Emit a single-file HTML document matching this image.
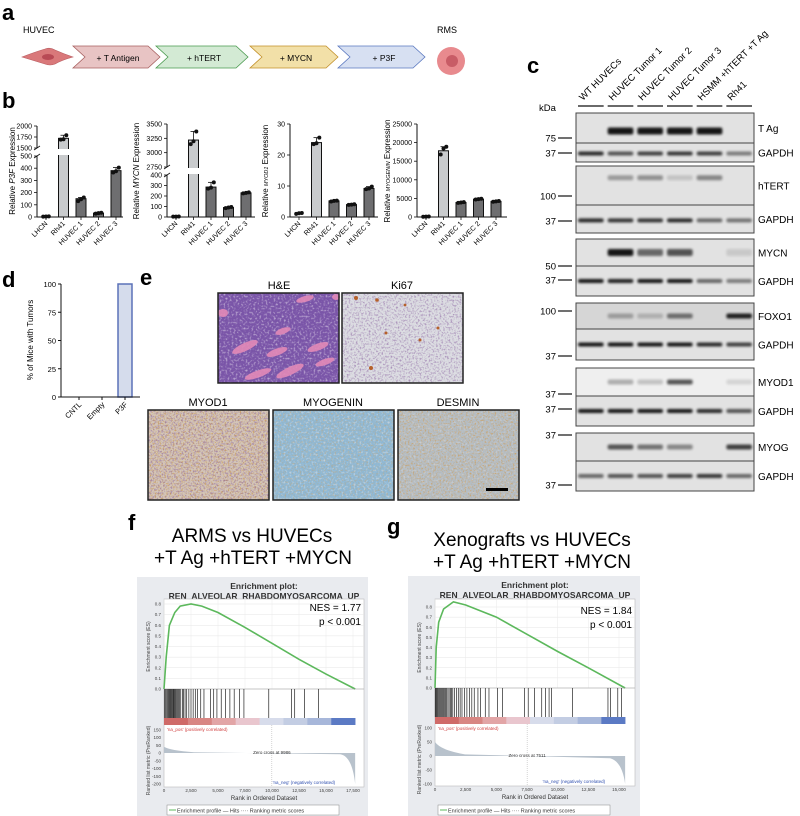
<!DOCTYPE html>
<html><head><meta charset="utf-8">
<style>
html,body{margin:0;padding:0;background:#fff;}
svg{display:block;font-family:"Liberation Sans",Arial,sans-serif;}
</style></head>
<body>
<svg id="fig" width="800" height="816" viewBox="0 0 800 816" xmlns="http://www.w3.org/2000/svg">
<defs>
  <filter id="blur1" x="-20%" y="-100%" width="140%" height="300%"><feGaussianBlur stdDeviation="1.3"/></filter>
  <filter id="speckDark" x="0" y="0" width="100%" height="100%" filterUnits="objectBoundingBox"><feTurbulence type="fractalNoise" baseFrequency="0.55" numOctaves="2" seed="3"/><feColorMatrix type="matrix" values="0 0 0 0 0.25  0 0 0 0 0.12  0 0 0 0 0.35  0 0 0 -3 1.6"/></filter>
  <filter id="speckBrown" x="0" y="0" width="100%" height="100%" filterUnits="objectBoundingBox"><feTurbulence type="fractalNoise" baseFrequency="0.6" numOctaves="2" seed="7"/><feColorMatrix type="matrix" values="0 0 0 0 0.6  0 0 0 0 0.35  0 0 0 0 0.12  0 0 0 -3.2 1.6"/></filter>
  <filter id="speckLight" x="0" y="0" width="100%" height="100%" filterUnits="objectBoundingBox"><feTurbulence type="fractalNoise" baseFrequency="0.5" numOctaves="2" seed="11"/><feColorMatrix type="matrix" values="0 0 0 0 0.95  0 0 0 0 0.92  0 0 0 0 0.95  0 0 0 -3 1.5"/></filter>
</defs>

<!-- Panel a -->
<g>
  <text x="2" y="20" font-size="22" font-weight="bold">a</text>
  <text x="23" y="33" font-size="9">HUVEC</text>
  <g>
    <path d="M22 57 Q35 52 45 49 Q50 47 55 50 Q64 54 73 57 Q62 60 55 64 Q50 66 45 64 Q35 61 22 57Z" fill="#d9787a" stroke="#b85c60" stroke-width="0.6"/>
    <ellipse cx="48" cy="57" rx="6" ry="3" fill="#b84a55"/>
  </g>
  <g>
    <polygon points="73,46 148,46 160,57 148,68 73,68 85,57" fill="#e8c4c4" stroke="#a86060" stroke-width="0.8"/>
    <text x="118" y="61" font-size="8.5" text-anchor="middle">+ T Antigen</text>
  </g>
  <g>
    <polygon points="156,46 236,46 248,57 236,68 156,68 168,57" fill="#d3ead4" stroke="#4a9a4e" stroke-width="0.8"/>
    <text x="204" y="61" font-size="8.5" text-anchor="middle">+ hTERT</text>
  </g>
  <g>
    <polygon points="250,46 326,46 338,57 326,68 250,68 262,57" fill="#f2e0a8" stroke="#c2902a" stroke-width="0.8"/>
    <text x="296" y="61" font-size="8.5" text-anchor="middle">+ MYCN</text>
  </g>
  <g>
    <polygon points="338,46 413,46 425,57 413,68 338,68 350,57" fill="#d7e0f2" stroke="#5a78c0" stroke-width="0.8"/>
    <text x="384" y="61" font-size="8.5" text-anchor="middle">+ P3F</text>
  </g>
  <text x="437" y="33" font-size="9">RMS</text>
  <g>
    <circle cx="451" cy="61" r="14" fill="#e88a8e"/>
    <circle cx="452" cy="61" r="6" fill="#c85c66"/>
  </g>
</g>

<!-- Panel b -->
<text x="2" y="108" font-size="22" font-weight="bold">b</text>
<g id="panelB"></g>

<!-- Panel c -->
<text x="527" y="73" font-size="22" font-weight="bold">c</text>
<g id="panelC"></g>

<!-- Panel d -->
<text x="2" y="287" font-size="22" font-weight="bold">d</text>
<g id="panelD"></g>

<!-- Panel e -->
<g>
  <text x="140" y="285" font-size="22" font-weight="bold">e</text>
  <text x="279" y="289" font-size="11" text-anchor="middle">H&amp;E</text>
  <text x="402" y="289" font-size="11" text-anchor="middle">Ki67</text>
  <text x="208" y="406" font-size="11" text-anchor="middle">MYOD1</text>
  <text x="333" y="406" font-size="11" text-anchor="middle">MYOGENIN</text>
  <text x="458" y="406" font-size="11" text-anchor="middle">DESMIN</text>

  <g>
    <rect x="218" y="293" width="121" height="90" fill="#7a55a8"/>
    <rect x="218" y="293" width="121" height="90" filter="url(#speckLight)" opacity="0.55"/>
    <g fill="#e38ab8" opacity="0.9">
      <ellipse cx="245" cy="347" rx="14" ry="4" transform="rotate(-25 245 347)"/>
      <ellipse cx="258" cy="374" rx="14" ry="3.5" transform="rotate(-20 258 374)"/>
      <ellipse cx="277" cy="352" rx="11" ry="3.5" transform="rotate(-20 277 352)"/>
      <ellipse cx="290" cy="371" rx="15" ry="4" transform="rotate(-25 290 371)"/>
      <ellipse cx="283" cy="331" rx="8" ry="3" transform="rotate(-20 283 331)"/>
      <ellipse cx="318" cy="347" rx="11" ry="3.5" transform="rotate(-20 318 347)"/>
      <ellipse cx="325" cy="362" rx="10" ry="3" transform="rotate(-20 325 362)"/>
      <ellipse cx="305" cy="299" rx="9" ry="3" transform="rotate(-15 305 299)"/>
      <ellipse cx="223" cy="313" rx="5" ry="4"/>
      <ellipse cx="336" cy="297" rx="4" ry="3"/>
    </g>
    <rect x="218" y="293" width="121" height="90" fill="none" stroke="#222" stroke-width="1.5"/>
  </g>
  <g>
    <rect x="342" y="293" width="121" height="90" fill="#dcdde2"/>
    <rect x="342" y="293" width="121" height="90" filter="url(#speckDark)" opacity="0.6"/>
    <g fill="#b5602a"><circle cx="356" cy="298" r="2"/><circle cx="377" cy="300" r="1.8"/><circle cx="371" cy="368" r="2"/><circle cx="386" cy="333" r="1.5"/><circle cx="420" cy="340" r="1.5"/><circle cx="438" cy="328" r="1.5"/><circle cx="405" cy="305" r="1.4"/></g>
    <rect x="342" y="293" width="121" height="90" fill="none" stroke="#222" stroke-width="1.5"/>
  </g>
  <g>
    <rect x="148" y="410" width="121" height="90" fill="#d4c6b8"/>
    <rect x="148" y="410" width="121" height="90" filter="url(#speckBrown)" opacity="1"/>
    <rect x="148" y="410" width="121" height="90" filter="url(#speckDark)" opacity="0.6"/>
    <rect x="148" y="410" width="121" height="90" fill="none" stroke="#222" stroke-width="1.5"/>
  </g>
  <g>
    <rect x="273" y="410" width="121" height="90" fill="#8fb8d4"/>
    <rect x="273" y="410" width="121" height="90" filter="url(#speckLight)" opacity="0.45"/>
    <rect x="273" y="410" width="121" height="90" filter="url(#speckBrown)" opacity="0.5"/>
    <rect x="273" y="410" width="121" height="90" fill="none" stroke="#222" stroke-width="1.5"/>
  </g>
  <g>
    <rect x="398" y="410" width="121" height="90" fill="#b4bcc2"/>
    <rect x="398" y="410" width="121" height="90" filter="url(#speckBrown)" opacity="0.85"/>
    <rect x="398" y="410" width="121" height="90" filter="url(#speckLight)" opacity="0.3"/>
    <rect x="486" y="488" width="22" height="3" fill="#000"/>
    <rect x="398" y="410" width="121" height="90" fill="none" stroke="#222" stroke-width="1.5"/>
  </g>
</g>

<!-- Panel f, g -->
<text x="128" y="530" font-size="22" font-weight="bold">f</text>
<text x="252" y="542" font-size="19" text-anchor="middle">ARMS vs HUVECs</text>
<text x="253" y="564" font-size="19" text-anchor="middle">+T Ag +hTERT +MYCN</text>
<text x="387" y="534" font-size="22" font-weight="bold">g</text>
<text x="532" y="546" font-size="19" text-anchor="middle">Xenografts vs HUVECs</text>
<text x="532" y="568" font-size="19" text-anchor="middle">+T Ag +hTERT +MYCN</text>
<g id="panelF"></g>
<g id="panelG"></g>
</svg>

<script>
const NS = "http://www.w3.org/2000/svg";
function mk(parent, tag, attrs, text){
  const e = document.createElementNS(NS, tag);
  for (const k in attrs) e.setAttribute(k, attrs[k]);
  if (text !== undefined) e.textContent = text;
  parent.appendChild(e);
  return e;
}

// ===== Panel b data =====
const bCategories = ["LHCN","Rh41","HUVEC 1","HUVEC 2","HUVEC 3"];
const p3fMeans = [5, 1720, 150, 32, 380];
const p3fPoints = [[3,4,5],[1690,1700,1790],[130,145,160],[28,32,35],[365,375,405]];
const mycnMeans = [5, 3220, 285, 90, 230];
const mycnPoints = [[3,4,5],[3150,3200,3370],[270,280,330],[85,90,95],[225,230,235]];
const myod1Means = [1.2, 24, 5.2, 4.0, 9.2];
const myod1Points = [[1.0,1.2,1.3],[23.5,23.8,25.6],[5.0,5.2,5.3],[3.9,4.0,4.1],[9.0,9.2,9.8]];
const myogMeans = [100, 17800, 3900, 4800, 4200];
const myogPoints = [[80,100,120],[16800,18400,18900],[3800,3900,4000],[4700,4800,4900],[4100,4200,4300]];
const p3fTicks = [0,100,200,300,400,500,1500,1750,2000];
const mycnTicks = [0,100,200,300,400,2750,3000,3250,3500];
const myod1Ticks = [0,10,20,30];
const myogTicks = [0,5000,10000,15000,20000,25000];

function makeScale(segs){
  return function(v){
    for (const s of segs){
      if (v >= s.d0 - 1e-9 && v <= s.d1 + 1e-9) return s.y0 + (v - s.d0)/(s.d1 - s.d0)*(s.y1 - s.y0);
    }
    const last = segs[segs.length-1];
    if (v > last.d1) return last.y1;
    for (let i=0;i<segs.length-1;i++) if (v > segs[i].d1 && v < segs[i+1].d0) return segs[i+1].y0;
    return segs[0].y0;
  };
}

function barChart(cfg){
  const g = mk(document.getElementById("panelB"), "g", {});
  
  
  const y = makeScale(cfg.segs);
  const ax = cfg.axisX, base = 217, step = 17.5;
  const xc = i => ax + 9 + i*step;
  cfg.means.forEach((m,i)=>{
    if (i===0) return;
    const top = y(m);
    const r = mk(g, "rect", {x: xc(i)-5, y: top, width: 10, height: base-top, fill: i===1 ? "#c9cbcd" : "#6e6e70", stroke:"#111", "stroke-width":1});
    
    
    const pts = cfg.points[i];
    const hi = Math.max(...pts);
    mk(g, "line", {x1:xc(i), x2:xc(i), y1:top, y2:y(hi), stroke:"#111", "stroke-width":0.8});
    mk(g, "line", {x1:xc(i)-3, x2:xc(i)+3, y1:y(hi), y2:y(hi), stroke:"#111", "stroke-width":0.8});
  });
  cfg.segs.forEach((s,k)=>{
    if (k===0) return;
    const gapTop = s.y0, gapBot = cfg.segs[k-1].y1;
    mk(g, "rect", {x: ax+1, y: gapTop+1, width: 90, height: gapBot-gapTop-2, fill:"#fff"});
  });
  cfg.points.forEach((pts,i)=>{
    pts.forEach((p,j)=>{
      const c = mk(g, "circle", {cx: xc(i) + (j-1)*2.8, cy: y(p), r: 2, fill:"#111"});
      
      
    });
  });
  cfg.segs.forEach(s=>{
    mk(g, "line", {x1:ax, x2:ax, y1:s.y0, y2:s.y1, stroke:"#111", "stroke-width":1});
  });
  cfg.segs.forEach((s,k)=>{
    if (k===0) return;
    mk(g,"line",{x1:ax-3,x2:ax+3,y1:s.y0+2,y2:s.y0-2,stroke:"#111","stroke-width":0.8});
    mk(g,"line",{x1:ax-3,x2:ax+3,y1:cfg.segs[k-1].y1+2,y2:cfg.segs[k-1].y1-2,stroke:"#111","stroke-width":0.8});
  });
  const xa = mk(g, "line", {x1:ax, x2:ax+cfg.len, y1:base, y2:base, stroke:"#111", "stroke-width":1});
  
  
  cfg.ticks.forEach(t=>{
    const ty = y(t);
    mk(g, "line", {x1:ax-3, x2:ax, y1:ty, y2:ty, stroke:"#111", "stroke-width":0.8});
    const tl = mk(g, "text", {x:ax-5, y:ty+2.5, "font-size":7, "text-anchor":"end"}, String(t));
    
    
  });
  bCategories.forEach((c,i)=>{
    mk(g, "line", {x1:xc(i), x2:xc(i), y1:base, y2:base+3, stroke:"#111", "stroke-width":0.8});
    const t = mk(g, "text", {x:xc(i)+2, y:base+7, "font-size":7, "text-anchor":"end", transform:`rotate(-45 ${xc(i)+2} ${base+7})`}, c);
    
    
  });
  const yt = mk(g, "text", {x:cfg.titleX, y:171, "font-size":8, "text-anchor":"middle", transform:`rotate(-90 ${cfg.titleX} 171)`});
  
  
  mk(yt, "tspan", {}, "Relative ");
  mk(yt, "tspan", {"font-style":"italic", "font-size": cfg.geneSmall ? 5.5 : 8}, cfg.gene);
  mk(yt, "tspan", {}, " Expression");
}

barChart({name:"p3f-expression-chart", axisX:37, len:86, titleX:15, gene:"P3F", means:p3fMeans, points:p3fPoints, ticks:p3fTicks,
  segs:[{d0:0,d1:500,y0:217,y1:156},{d0:1500,d1:2000,y0:148,y1:126}]});
barChart({name:"mycn-expression-chart", axisX:167, len:88, titleX:139, gene:"MYCN", means:mycnMeans, points:mycnPoints, ticks:mycnTicks,
  segs:[{d0:0,d1:400,y0:217,y1:175},{d0:2750,d1:3500,y0:167,y1:124}]});
barChart({name:"myod1-expression-chart", axisX:290, len:88, titleX:268, gene:"MYOD1", geneSmall:true, means:myod1Means, points:myod1Points, ticks:myod1Ticks,
  segs:[{d0:0,d1:30,y0:217,y1:124}]});
barChart({name:"myogenin-expression-chart", axisX:417, len:90, titleX:390, gene:"MYOGENIN", geneSmall:true, means:myogMeans, points:myogPoints, ticks:myogTicks,
  segs:[{d0:0,d1:25000,y0:217,y1:124}]});

// ===== Panel c: western blots =====
const laneLabels = ["WT HUVECs","HUVEC Tumor 1","HUVEC Tumor 2","HUVEC Tumor 3","HSMM +hTERT +T Ag","Rh41"];
const blotNames = ["T Ag","GAPDH","hTERT","GAPDH","MYCN","GAPDH","FOXO1","GAPDH","MYOD1","GAPDH","MYOG","GAPDH"];
const blotTops =    [113,143,166,205,239,266,303,329,368,396,433,461];
const blotBottoms = [143,162,205,233,266,296,329,360,396,426,461,491];
const blotIntensity = [
  [0,1,1,1,1,0],[0.9,0.7,0.8,0.85,0.8,0.5],
  [0,0.35,0.4,0.15,0.45,0],[0.9,0.85,0.85,0.9,0.6,0.55],
  [0,1,0.6,0.7,0,0.12],[1,0.95,1,1,0.6,0.5],
  [0,0.3,0.2,0.55,0,0.95],[1,1,1,1,0.9,0.8],
  [0,0.3,0.2,0.7,0,0.12],[1,1,1,1,0.9,0.7],
  [0,0.7,0.55,0.45,0,0.8],[0.6,0.7,0.7,0.8,0.85,0.6]];
const blotBandFrac = [0.6,0.55,0.3,0.55,0.5,0.5,0.5,0.5,0.5,0.5,0.5,0.5];
const markerLabels = ["75","37","100","37","50","37","100","37","37","37","37","37"];
const markerYs = [138,153,196,221,266,280,311,356,394,409,435,485];
(function(){
  const g = document.getElementById("panelC");
  const x0 = 576, x1 = 754, lw = (x1-x0)/6;
  mk(g, "text", {x:539, y:111, "font-size":9.5}, "kDa");
  laneLabels.forEach((l,i)=>{
    const cx = x0 + (i+0.5)*lw;
    mk(g, "line", {x1:cx-lw/2+2, x2:cx+lw/2-2, y1:106, y2:106, stroke:"#111", "stroke-width":1.2});
    const t = mk(g, "text", {x:cx-8, y:101, "font-size":9.5, transform:`rotate(-45 ${cx-8} 101)`}, l);
    
    
  });
  blotNames.forEach((n,r)=>{
    const top = blotTops[r], bot = blotBottoms[r];
    const bg = n==="FOXO1" ? "#d6d6d6" : (n==="MYOD1" ? "#efefef" : "#e2e2e2");
    const box = mk(g, "rect", {x:x0, y:top, width:x1-x0, height:bot-top, fill:bg, stroke:"#444", "stroke-width":1});
    
    
    const by = top + (bot-top)*blotBandFrac[r];
    const th = n==="GAPDH" ? 4 : (n==="T Ag"||n==="MYCN" ? 7 : 5);
    blotIntensity[r].forEach((v,i)=>{
      if (v<=0) return;
      const cx = x0 + (i+0.5)*lw;
      const b = mk(g, "rect", {x:cx-lw/2+2, y:by-th/2, width:lw-4, height:th, rx:2, fill:"#000", opacity:v*0.9, filter:"url(#blur1)"});
      
      
    });
    const lab = mk(g, "text", {x:758, y:(top+bot)/2+4, "font-size":10}, n);
    
    
  });
  markerLabels.forEach((m,i)=>{
    const y = markerYs[i];
    mk(g, "text", {x:556, y:y+3.5, "font-size":9.5, "text-anchor":"end"}, m);
    mk(g, "line", {x1:558, x2:572, y1:y, y2:y, stroke:"#111", "stroke-width":1.2});
  });
})();

// ===== Panel d =====
const dCategories = ["CNTL","Empty","P3F"];
const dValues = [0, 0, 100];
const dTicks = [0,25,50,75,100];
(function(){
  const g = document.getElementById("panelD");
  const ax = 61, y0 = 397, y100 = 284;
  const y = v => y0 + (y100-y0)*v/100;
  const xc = i => 79 + i*23;
  dValues.forEach((v,i)=>{
    if (v<=0) return;
    const r = mk(g, "rect", {x:xc(i)-7, y:y(v), width:14, height:y0-y(v), fill:"#d5dcec", stroke:"#5b72b8", "stroke-width":1.5});
    
    
  });
  mk(g, "line", {x1:ax, x2:ax, y1:y100, y2:y0, stroke:"#111", "stroke-width":1});
  mk(g, "line", {x1:ax, x2:140, y1:y0, y2:y0, stroke:"#111", "stroke-width":1});
  dTicks.forEach(t=>{
    mk(g, "line", {x1:ax-3, x2:ax, y1:y(t), y2:y(t), stroke:"#111"});
    mk(g, "text", {x:ax-5, y:y(t)+3, "font-size":7.5, "text-anchor":"end"}, String(t));
  });
  dCategories.forEach((c,i)=>{
    mk(g, "line", {x1:xc(i), x2:xc(i), y1:y0, y2:y0+3, stroke:"#111"});
    const t = mk(g, "text", {x:xc(i)+3, y:y0+8, "font-size":7.5, "text-anchor":"end", transform:`rotate(-45 ${xc(i)+3} ${y0+8})`}, c);
    
    
  });
  const yt = mk(g, "text", {x:33, y:340, "font-size":8, "text-anchor":"middle", transform:"rotate(-90 33 340)"}, "% of Mice with Tumors");
  
  
})();

// ===== Panels f, g: GSEA =====
const fRanks = [0,200,500,1000,1500,2500,3500,5000,7500,10000,12500,15000,17700];
const fES =    [0,0.30,0.60,0.72,0.78,0.80,0.78,0.72,0.58,0.43,0.28,0.14,0];
const fHits = [60,150,250,320,400,480,560,640,700,780,850,920,1000,1080,1150,1250,1350,1450,1550,1700,1800,1950,2100,2300,2500,2700,2900,3100,3400,3700,4300,4600,4900,5300,5700,6100,6500,7000,7400,9700,11800,12100,13000,14300];
const fTicks = [0,2500,5000,7500,10000,12500,15000,17500];
const fTickLabels = ["0","2,500","5,000","7,500","10,000","12,500","15,000","17,500"];
const fMetricTicks = [150,100,50,0,-50,-100,-150,-200];
const gRanks = [0,100,300,700,1500,2500,5000,7500,10000,12500,15500];
const gES =    [0,0.40,0.65,0.78,0.85,0.82,0.70,0.53,0.36,0.20,0];
const gHits = [20,80,150,220,300,380,450,520,600,680,760,850,950,1050,1150,1250,1350,1450,1600,1750,1900,2050,2200,2400,2600,2800,3000,3200,3500,3700,4100,4400,5100,5500,7300,7600,8100,8700,9000,9300,9500,11200,14100,14300,14900,15200];
const gTicks = [0,2500,5000,7500,10000,12500,15000];
const gTickLabels = ["0","2,500","5,000","7,500","10,000","12,500","15,000"];
const gMetricTicks = [100,50,0,-50,-100];

function gsea(cfg){
  const g = document.getElementById(cfg.id);
  const bx = cfg.box;
  mk(g, "rect", {x:bx[0], y:bx[1], width:bx[2], height:bx[3], fill:"#e9ebef"});
  mk(g, "text", {x:cfg.px0+(cfg.px1-cfg.px0)/2, y:bx[1]+12, "font-size":8.5, "font-weight":"bold", "text-anchor":"middle", fill:"#333"}, "Enrichment plot:");
  mk(g, "text", {x:cfg.px0+(cfg.px1-cfg.px0)/2, y:bx[1]+22, "font-size":8.5, "font-weight":"bold", "text-anchor":"middle", fill:"#333"}, "REN_ALVEOLAR_RHABDOMYOSARCOMA_UP");
  const X = r => cfg.px0 + r*cfg.kx;
  const esTop = cfg.esTop, esBot = cfg.esBot;
  const Y = v => esBot + (esTop-esBot)*v/0.8;
  mk(g, "rect", {x:cfg.px0, y:cfg.plotTop, width:cfg.px1-cfg.px0, height:cfg.rankBot-cfg.plotTop, fill:"#fff", stroke:"#bbb", "stroke-width":0.6});
  for (let v=0; v<=0.8001; v+=0.1){
    mk(g, "line", {x1:cfg.px0, x2:cfg.px1, y1:Y(v), y2:Y(v), stroke:"#e4e4e4", "stroke-width":0.5});
    mk(g, "text", {x:cfg.px0-3, y:Y(v)+1.5, "font-size":4.5, "text-anchor":"end", fill:"#444"}, v.toFixed(1));
  }
  cfg.ticks.forEach((t,i)=>{
    mk(g, "line", {x1:X(t), x2:X(t), y1:cfg.plotTop, y2:esBot, stroke:"#eaeaea", "stroke-width":0.5});
    mk(g, "text", {x:X(t), y:cfg.rankBot+5, "font-size":4.5, "text-anchor":"middle", fill:"#444"}, cfg.tickLabels[i]);
  });
  mk(g, "text", {x:cfg.px0-14, y:(esTop+esBot)/2, "font-size":5, "text-anchor":"middle", fill:"#444", transform:`rotate(-90 ${cfg.px0-14} ${(esTop+esBot)/2})`}, "Enrichment score (ES)");
  let d = "";
  cfg.ranks.forEach((r,i)=>{ d += (i?"L":"M") + X(r).toFixed(1) + " " + Y(cfg.es[i]).toFixed(1) + " "; });
  const curve = mk(g, "path", {d:d, fill:"none", stroke:"#5cb85c", "stroke-width":1.6});
  
  
  mk(g, "text", {x:cfg.px1-3, y:esTop+7, "font-size":10, "text-anchor":"end"}, cfg.nes);
  mk(g, "text", {x:cfg.px1-3, y:esTop+21, "font-size":10, "text-anchor":"end"}, "p < 0.001");
  mk(g, "line", {x1:cfg.px0, x2:cfg.px1, y1:esBot, y2:esBot, stroke:"#999", "stroke-width":0.5});
  cfg.hits.forEach(h=>{
    const l = mk(g, "line", {x1:X(h), x2:X(h), y1:esBot, y2:cfg.hitBot, stroke:"#222", "stroke-width":0.7});
    
    
  });
  const barColors = ["#cf6a68","#d88683","#e2a5a6","#e9c6ce","#d7dceb","#c3cde3","#a7b7da","#5b7ac4"];
  const w = (X(cfg.maxRank)-cfg.px0)/barColors.length;
  barColors.forEach((c,i)=> mk(g, "rect", {x:cfg.px0+i*w, y:cfg.hitBot, width:w+0.3, height:7, fill:c}));
  const mY = v => cfg.m0y + v*cfg.mk;
  cfg.mticks.forEach(t=>{
    mk(g, "text", {x:cfg.px0-3, y:mY(t)+1.5, "font-size":4.5, "text-anchor":"end", fill:"#444"}, String(t));
  });
  const mx0 = cfg.px0, mx1 = X(cfg.maxRank);
  const area = `M${mx0} ${mY(0)} L${mx0} ${mY(cfg.mmax)} Q${mx0+6} ${mY(cfg.mmax*0.4)} ${mx0+30} ${mY(cfg.mmax*0.12)} L${mx1-15} ${mY(-8)} Q${mx1-3} ${mY(-20)} ${mx1} ${mY(cfg.mmin)} L${mx1} ${mY(0)} Z`;
  mk(g, "path", {d:area, fill:"#b8c2cc"});
  mk(g, "line", {x1:X(cfg.zero), x2:X(cfg.zero), y1:cfg.hitBot+7, y2:cfg.rankBot, stroke:"#aaa", "stroke-width":0.5, "stroke-dasharray":"1,1"});
  mk(g, "text", {x:cfg.px0+3, y:cfg.hitBot+13, "font-size":4.5, fill:"#d04040"}, "'na_pos' (positively correlated)");
  mk(g, "text", {x:X(cfg.zero), y:mY(0)+1, "font-size":4.5, "text-anchor":"middle", fill:"#333"}, "Zero cross at " + cfg.zero);
  mk(g, "text", {x:mx1-20, y:cfg.rankBot-3, "font-size":4.5, "text-anchor":"end", fill:"#3050b0"}, "'na_neg' (negatively correlated)");
  mk(g, "text", {x:cfg.px0-14, y:(cfg.hitBot+cfg.rankBot)/2+8, "font-size":5, "text-anchor":"middle", fill:"#444", transform:`rotate(-90 ${cfg.px0-14} ${(cfg.hitBot+cfg.rankBot)/2+8})`}, "Ranked list metric (PreRanked)");
  mk(g, "text", {x:(cfg.px0+cfg.px1)/2, y:cfg.rankBot+13, "font-size":6, "text-anchor":"middle", fill:"#333"}, "Rank in Ordered Dataset");
  const lx = cfg.px0+3, ly = bx[1]+bx[3]-11;
  mk(g, "rect", {x:lx, y:ly, width:172, height:10, fill:"#fff", stroke:"#888", "stroke-width":0.5});
  mk(g, "line", {x1:lx+2, x2:lx+9, y1:ly+5, y2:ly+5, stroke:"#5cb85c", "stroke-width":1});
  mk(g, "text", {x:lx+10, y:ly+7.5, "font-size":5.5, fill:"#333"}, "Enrichment profile — Hits ···· Ranking metric scores");
}
gsea({id:"panelF", box:[137,577,231,239], px0:164, px1:364, kx:189/17500, esTop:604, esBot:689, plotTop:599, hitBot:718, rankBot:787,
  ranks:fRanks, es:fES, hits:fHits, ticks:fTicks, tickLabels:fTickLabels, mticks:fMetricTicks, m0y:753, mk:-0.155, mmax:40, mmin:-200, maxRank:17700, zero:9986, nes:"NES = 1.77"});
gsea({id:"panelG", box:[408,576,232,240], px0:435, px1:635, kx:184/15000, esTop:607, esBot:688, plotTop:599, hitBot:717, rankBot:786,
  ranks:gRanks, es:gES, hits:gHits, ticks:gTicks, tickLabels:gTickLabels, mticks:gMetricTicks, m0y:756, mk:-0.28, mmax:50, mmin:-100, maxRank:15500, zero:7511, nes:"NES = 1.84"});
</script>
</body></html>
